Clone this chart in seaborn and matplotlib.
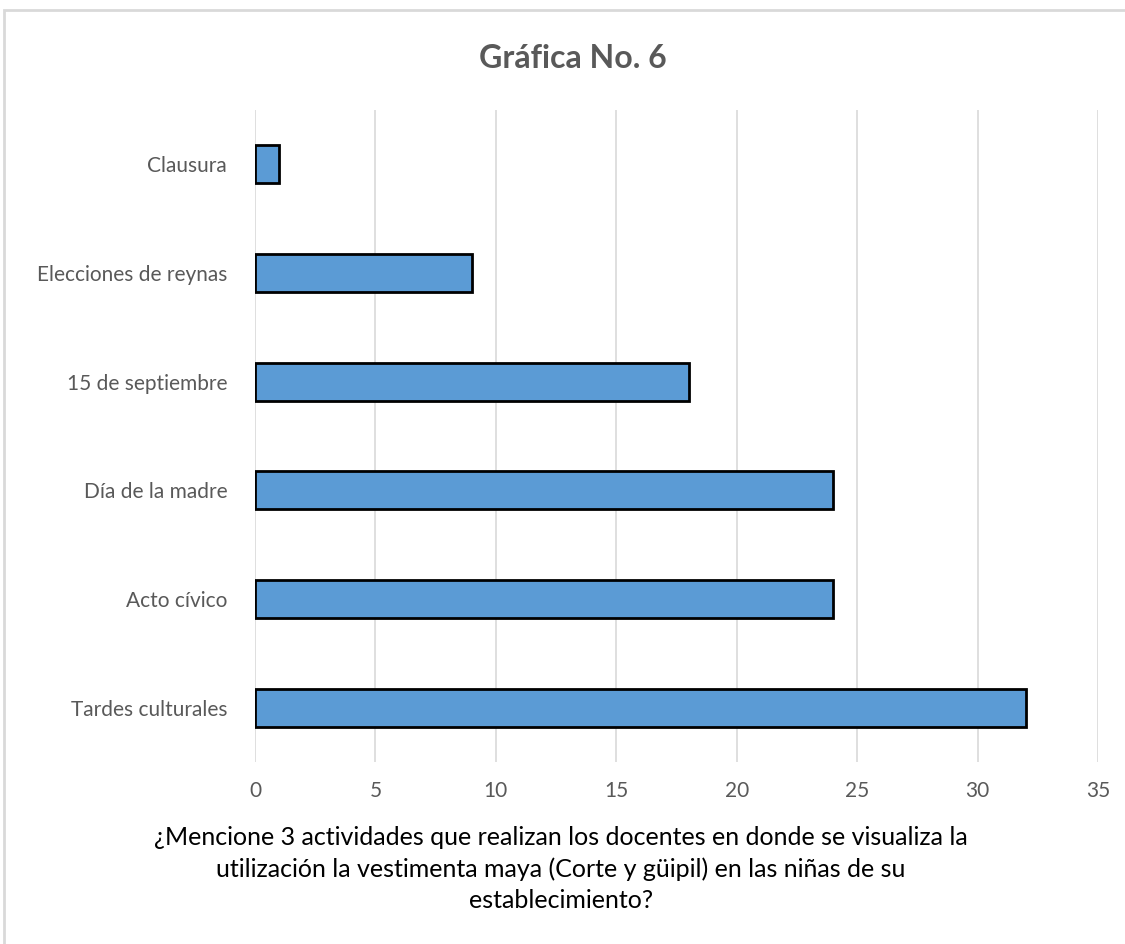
import matplotlib
matplotlib.use("Agg")
import matplotlib.pyplot as plt
import seaborn as sns
import pandas as pd
from matplotlib.patches import Rectangle

categories = ["Clausura", "Elecciones de reynas", "15 de septiembre",
              "Día de la madre", "Acto cívico", "Tardes culturales"]
values = [1, 9, 18, 24, 24, 32]
x_ticks = [0, 5, 10, 15, 20, 25, 30, 35]

title = "Gráfica No. 6"
x_title = ("¿Mencione 3 actividades que realizan los docentes en donde se visualiza la\n"
           "utilización la vestimenta maya (Corte y güipil) en las niñas de su\n"
           "establecimiento?")

df = pd.DataFrame({"actividad": categories, "total": values})

sns.set_theme(style="white")
plt.rcParams["font.family"] = ["Lato", "DejaVu Sans"]

fig = plt.figure(figsize=(11.25, 9.44), dpi=100)
ax = fig.add_axes([255 / 1125, 1 - 762 / 944, (1098 - 255) / 1125, (762 - 110) / 944])

sns.barplot(data=df, y="actividad", x="total", orient="h", color="#5B9BD5",
            edgecolor="black", linewidth=2, width=0.35, saturation=1, ax=ax)

ax.set_xlim(0, 35)
ax.set_xticks(x_ticks)
ax.xaxis.grid(True, color="#D9D9D9", linewidth=1.2)
ax.set_axisbelow(True)
for s in ax.spines.values():
    s.set_visible(False)
ax.tick_params(axis="both", length=0, labelsize=15, labelcolor="#595959")
ax.tick_params(axis="x", pad=14)
ax.tick_params(axis="y", pad=20)
ax.set_xlabel("")
ax.set_ylabel("")

fig.text(573 / 1125, 1 - 58 / 944, title, ha="center", va="center", fontsize=23,
         fontweight="bold", color="#595959")
fig.text(561 / 1125, 1 - 869 / 944, x_title, ha="center", va="center",
         fontsize=18, color="black", linespacing=1.45)

fig.add_artist(Rectangle((4 / 1125, -0.05), 1.1, 1 - 10 / 944 + 0.05,
                         transform=fig.transFigure, fill=False,
                         edgecolor="#D9D9D9", linewidth=2))

fig.savefig("out.png", dpi=100)
